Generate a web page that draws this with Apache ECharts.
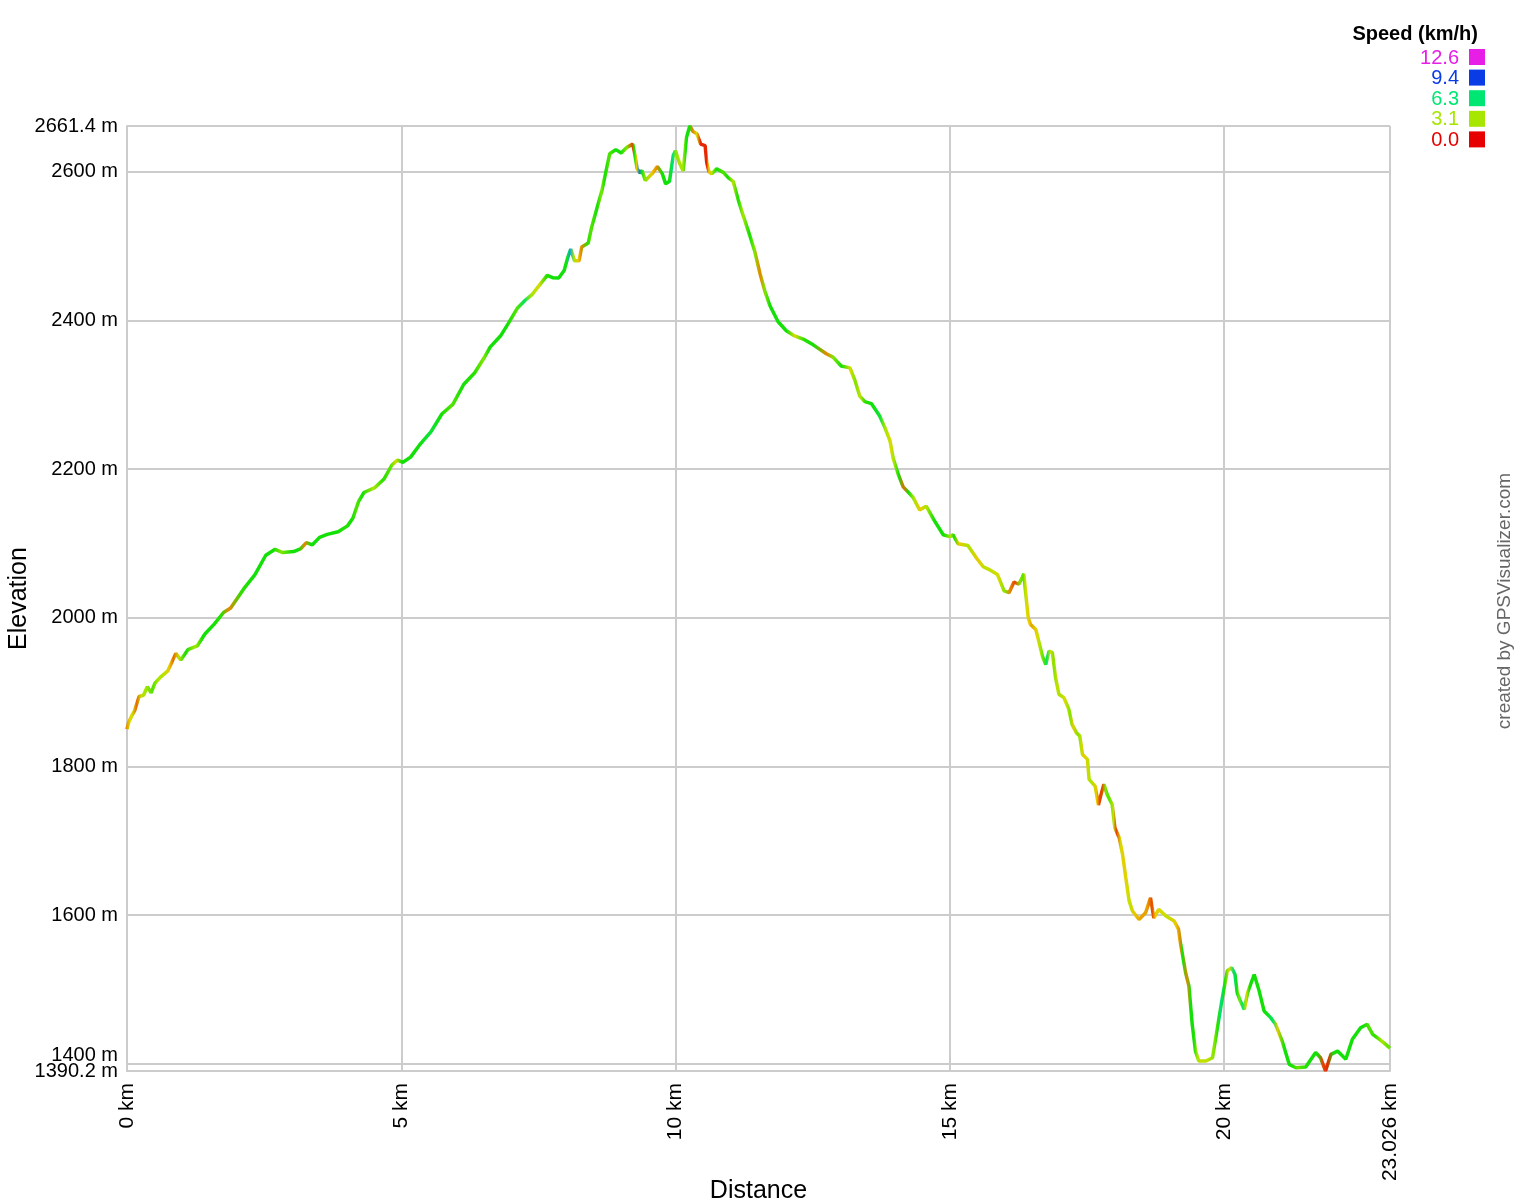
<!DOCTYPE html>
<html><head><meta charset="utf-8">
<script src="https://cdn.jsdelivr.net/npm/echarts@6/dist/echarts.min.js"></script>
<style>html,body{margin:0;padding:0;background:#fff}#c{width:1516px;height:1200px}</style>
</head><body><div id="c"></div>
<script>
const distanceKm = [0.00,0.03,0.10,0.14,0.22,0.30,0.37,0.44,0.51,0.61,0.74,0.81,0.89,0.98,1.11,1.28,1.42,1.59,1.76,1.89,2.13,2.33,2.53,2.70,2.84,3.04,3.17,3.27,3.38,3.51,3.65,3.85,4.02,4.12,4.22,4.32,4.52,4.69,4.83,4.93,5.03,5.17,5.33,5.54,5.74,5.94,6.14,6.34,6.52,6.62,6.82,6.95,7.12,7.26,7.39,7.53,7.66,7.76,7.87,7.97,8.04,8.09,8.16,8.24,8.29,8.41,8.47,8.58,8.66,8.72,8.80,8.91,9.01,9.12,9.22,9.26,9.30,9.35,9.39,9.45,9.57,9.67,9.76,9.82,9.89,9.96,10.00,10.07,10.14,10.20,10.26,10.32,10.39,10.46,10.54,10.57,10.61,10.66,10.75,10.87,10.96,11.05,11.14,11.23,11.35,11.44,11.54,11.63,11.72,11.87,12.02,12.17,12.35,12.51,12.75,12.87,13.02,13.18,13.27,13.36,13.45,13.57,13.72,13.81,13.91,13.97,14.06,14.15,14.24,14.33,14.45,14.57,14.70,14.88,15.00,15.06,15.15,15.33,15.49,15.61,15.71,15.87,15.99,16.08,16.17,16.26,16.32,16.35,16.38,16.43,16.47,16.57,16.63,16.69,16.75,16.81,16.87,16.93,16.99,17.08,17.17,17.23,17.31,17.37,17.42,17.51,17.54,17.65,17.71,17.75,17.81,17.87,17.96,18.01,18.09,18.15,18.21,18.27,18.33,18.45,18.57,18.66,18.72,18.81,18.94,19.09,19.17,19.21,19.30,19.36,19.42,19.48,19.54,19.67,19.79,19.85,19.91,19.97,20.06,20.14,20.20,20.24,20.30,20.37,20.43,20.55,20.64,20.73,20.85,20.94,21.06,21.19,21.31,21.49,21.67,21.76,21.85,21.95,22.07,22.22,22.34,22.49,22.61,22.71,22.83,22.93,23.026];
const elevationM = [1850,1859,1870,1875,1894,1895.6,1907,1899,1912,1920,1928,1939,1952,1943,1957,1962,1978,1991.4,2007,2013,2039,2057.5,2084,2092,2087.6,2089,2093,2101,2098,2108,2112,2115.6,2123.5,2134,2156,2168.4,2175,2187,2205.4,2212,2209,2216,2232,2250,2274,2287,2314,2329.5,2350.7,2364,2380,2395.6,2416.7,2427,2435,2448.4,2460.5,2457.4,2457,2467,2485.4,2496,2480,2480,2498.6,2504,2525,2554,2575,2596,2624,2629.6,2625,2633,2637,2622.7,2604,2598,2601.6,2588,2597,2607,2597,2583.5,2587,2622,2628,2612,2601,2646,2661.4,2654,2651,2637,2635,2612,2600,2597,2604,2599,2592,2587,2563,2541.7,2515,2494,2463,2439,2420,2398,2386,2379,2374,2367,2355,2350.5,2338.5,2336,2319.4,2298,2290.7,2288,2271.6,2257,2238,2214,2193,2176,2169,2162,2145,2150,2133,2111.5,2109,2111.5,2099.5,2097,2080,2068.5,2065,2058,2036,2033.6,2048,2045,2054,2059,2036,2000,1991,1984,1966,1948,1937,1955,1953,1919,1897,1892.4,1877,1856.5,1845,1841,1816,1809.4,1782.5,1773.5,1748,1760,1776,1762,1749,1717.5,1704,1681.6,1650,1619,1605.4,1594,1603,1623.3,1596,1607.6,1598.7,1592,1581,1560.5,1522.4,1504.5,1453,1417,1403.6,1403.6,1408,1435,1462,1489,1525,1529,1520,1495.5,1484,1473,1495.5,1520,1498,1471,1462,1453,1430.5,1399,1394.6,1395.5,1415,1408,1390.2,1412.6,1417,1406,1433,1448.4,1453,1439.5,1433,1427,1421];
const speedKmh = [
  0.5,1.0,1.8,2.2,0.8,2.5,3.0,3.5,4.0,3.0,
  2.5,1.5,0.8,2.5,4.8,3.0,4.8,4.8,4.5,1.0,
  4.5,4.8,4.8,4.8,3.5,4.8,4.8,1.0,4.8,4.8,
  4.8,4.8,4.5,4.8,4.0,4.8,3.0,4.5,4.0,2.0,
  4.8,4.8,4.8,5.5,4.8,4.0,4.8,4.5,3.5,4.8,
  4.8,4.8,4.0,6.0,3.0,2.0,4.5,4.8,4.8,4.8,
  5.0,8.0,3.0,1.5,1.0,4.5,4.0,4.8,3.5,4.8,
  4.0,4.8,4.8,3.5,0.5,4.5,1.5,8.5,4.8,3.5,
  1.5,1.0,4.8,4.8,4.8,6.5,3.5,3.0,3.0,4.8,
  4.8,1.0,2.0,0.3,0.3,0.3,1.5,2.5,4.8,4.0,
  4.8,2.5,4.8,3.0,4.8,3.5,1.0,3.5,4.8,4.8,
  4.8,2.0,4.5,4.8,1.0,3.5,4.8,2.0,3.5,2.5,
  4.5,4.8,5.5,3.0,2.0,3.0,4.8,0.8,4.8,3.0,
  1.5,3.0,4.8,4.8,3.0,4.8,1.5,3.0,1.5,2.5,
  2.5,2.0,3.5,1.0,0.5,3.5,4.0,2.5,2.0,1.5,
  1.2,1.8,3.0,4.0,6.0,2.0,3.5,2.5,3.0,2.0,
  3.5,1.5,3.5,2.5,1.5,2.5,3.0,1.5,0.5,0.5,
  3.5,4.0,2.5,0.5,2.0,1.5,2.0,2.5,1.5,1.2,
  1.2,0.5,1.5,2.0,2.5,1.5,1.0,4.8,1.0,4.8,
  4.8,3.0,2.5,2.5,3.5,4.5,6.5,4.8,1.8,6.5,
  4.8,3.5,6.0,2.0,4.8,4.8,4.8,4.8,6.0,1.5,
  4.8,4.8,3.8,4.8,4.8,0.5,0.3,4.8,4.8,4.8,
  4.8,4.8,4.0,4.5,3.0,3.8,3.8];
const yTickValues = [1400,1600,1800,2000,2200,2400,2600];
const yExtentValues = [1390.2,2661.4];
const xTickValues = [0,5,10,15,20,23.026];
const legendSpeeds = [12.6,9.4,6.3,3.1,0.0];
const legendColors = ['#e61ee6','#0a3ce6','#00e673','#a6e600','#e60000'];

const scaleStops = [0,1.6,3.1,4.7,6.3,7.85,9.4,11,12.6];
const scaleColors = [[230,0,0],[232,216,0],[166,230,0],[20,224,0],[0,230,115],[0,176,230],[10,60,230],[144,48,230],[230,30,230]];
function speedColor(s){
  if(s==null) s=4.7;
  for(let i=0;i<scaleStops.length-1;i++){
    if(s<=scaleStops[i+1]){
      const t=(s-scaleStops[i])/(scaleStops[i+1]-scaleStops[i]);
      const a=scaleColors[i],b=scaleColors[i+1];
      return 'rgb('+a.map((v,k)=>Math.round(v+(b[k]-v)*t)).join(',')+')';
    }
  }
  const c=scaleColors[scaleColors.length-1];return 'rgb('+c.join(',')+')';
}
const xMax = distanceKm[distanceKm.length-1];
const yMin = yExtentValues[0], yMax = yExtentValues[1];
const stops = distanceKm.map((d,i)=>({offset:d/xMax,color:speedColor(speedKmh[i])}));
const data = distanceKm.map((d,i)=>[d,elevationM[i]]);

const chart = echarts.init(document.getElementById('c'),null,{renderer:'canvas'});
const font = '"Liberation Sans", Arial, sans-serif';
const gridColor = '#cccccc';
const graphics = [{
  type:'text', x:1478, y:34,
  style:{text:'Speed (km/h)', font:'bold 20px '+font, fill:'#000', align:'right', verticalAlign:'middle'}
}];
legendSpeeds.forEach((v,i)=>{
  graphics.push({type:'text', x:1459, y:58+i*20.6, style:{text:v.toFixed(1), font:'20px '+font, fill:legendColors[i], align:'right', verticalAlign:'middle'}});
  graphics.push({type:'rect', shape:{x:1469, y:49+i*20.6, width:16, height:16}, style:{fill:legendColors[i]}});
});
graphics.push({type:'text', x:1505, y:601, rotation:Math.PI/2,
  style:{text:'created by GPSVisualizer.com', font:'19px '+font, fill:'#666', align:'center', verticalAlign:'middle'}});

const yLabelBase = {margin:9, fontFamily:font, fontSize:20, color:'#000', showMinLabel:true, showMaxLabel:true, hideOverlap:false};
chart.setOption({
  animation:false,
  backgroundColor:'#fff',
  grid:{left:127, right:126, top:126, bottom:129, containLabel:false, outerBoundsMode:'none'},
  xAxis:{
    type:'value', min:0, max:xMax,
    name:'Distance', nameLocation:'middle', nameGap:108, nameMoveOverlap:false,
    nameTextStyle:{fontFamily:font, fontSize:25, color:'#000'},
    axisLine:{show:true, lineStyle:{color:gridColor, width:2}},
    axisTick:{show:false, customValues:xTickValues},
    axisLabel:{customValues:xTickValues, rotate:90, margin:12, fontFamily:font, fontSize:21, color:'#000',
      showMinLabel:true, showMaxLabel:true, hideOverlap:false, formatter:v=>v+' km'},
    splitLine:{show:true, lineStyle:{color:gridColor, width:2}}
  },
  yAxis:[{
    type:'value', min:yMin, max:yMax, position:'left', offset:0,
    name:'Elevation', nameLocation:'middle', nameGap:95, nameRotate:90, nameMoveOverlap:false,
    nameTextStyle:{fontFamily:font, fontSize:25, color:'#000'},
    axisLine:{show:true, lineStyle:{color:gridColor, width:2}},
    axisTick:{show:false, customValues:yTickValues},
    axisLabel:Object.assign({}, yLabelBase, {customValues:yTickValues,
      formatter:v=> v===1400 ? '{up|1400 m}' : v+' m',
      rich:{up:{fontFamily:font, fontSize:20, color:'#000', padding:[0,0,16,0]}}}),
    splitLine:{show:true, lineStyle:{color:gridColor, width:2}}
  },{
    type:'value', min:yMin, max:yMax, position:'left', offset:0,
    axisLine:{show:false},
    axisTick:{show:false, customValues:yExtentValues},
    axisLabel:Object.assign({}, yLabelBase, {customValues:yExtentValues, formatter:v=>v+' m'}),
    splitLine:{show:true, lineStyle:{color:gridColor, width:2}}
  }],
  series:[{
    type:'line', data:data, showSymbol:false, smooth:false, yAxisIndex:0,
    lineStyle:{width:3.5, color:new echarts.graphic.LinearGradient(0,0,1,0,stops)}
  }],
  graphic:graphics
});
</script></body></html>
